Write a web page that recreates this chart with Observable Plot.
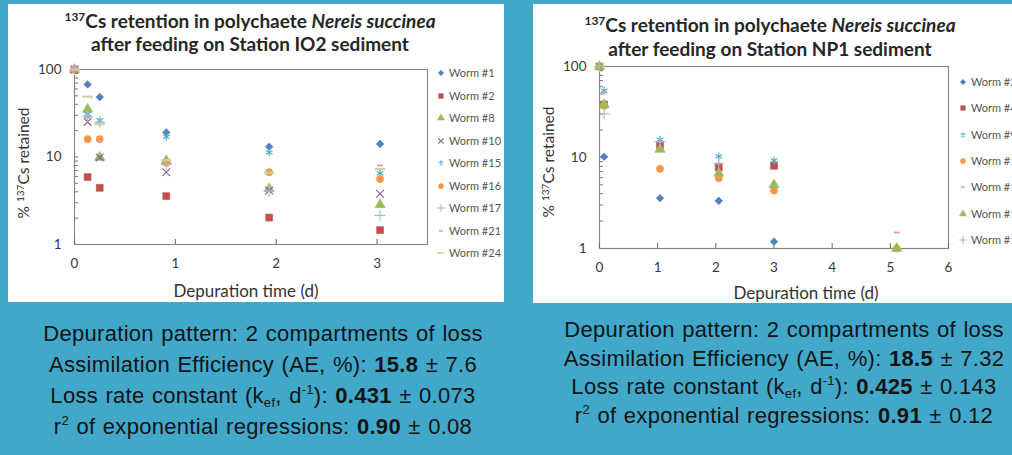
<!DOCTYPE html>
<html><head><meta charset="utf-8">
<script src="https://cdn.jsdelivr.net/npm/d3@7"></script>
<script src="https://cdn.jsdelivr.net/npm/@observablehq/plot@0.6"></script>
<style>
html,body{margin:0;padding:0;overflow:hidden;background:#41a8ca;}
#slide{position:relative;width:1012px;height:455px;background:#41a8ca;overflow:hidden;}
.panel{position:absolute;background:#fff;overflow:hidden;}
.panel svg{position:absolute;left:0;top:0;}
.title{position:absolute;left:0;font-family:Lato,sans-serif;font-weight:bold;font-size:19px;color:#262626;text-align:center;white-space:nowrap;}
.title sup{font-size:12px;line-height:0;vertical-align:0;position:relative;top:-7px;}
.ylab{position:absolute;font-family:Lato,sans-serif;font-size:15.5px;color:#333;white-space:nowrap;transform:translate(-50%,-50%) rotate(-90deg);}
.ylab sup{font-size:10px;line-height:0;position:relative;top:-5px;vertical-align:0;}
.xlab{position:absolute;font-family:Lato,sans-serif;font-size:17px;color:#333;white-space:nowrap;transform:translate(-50%,-50%);}
.leg{position:absolute;font-family:Lato,sans-serif;font-size:11px;color:#555;white-space:nowrap;line-height:12px;}
.leg svg{position:absolute;}
.notes{position:absolute;font-family:"Liberation Sans",Arial,sans-serif;font-size:22px;color:#141414;text-align:center;white-space:nowrap;word-spacing:1px;letter-spacing:0.3px;}
.notes div{height:var(--lh);line-height:var(--lh);}
.notes sup,.notes sub{font-size:13px;line-height:0;vertical-align:0;position:relative;}
.notes sup{top:-9px;}
.notes sub{top:4px;}
</style>
</head><body>
<div id="slide">
  <div class="panel" id="p1" style="left:8px;top:4px;width:496px;height:298px;"></div>
  <div class="panel" id="p2" style="left:533px;top:4px;width:490px;height:299px;"></div>
  <div class="notes" style="left:263px;top:318px;transform:translateX(-50%);--lh:31px;">
    <div>Depuration pattern: 2 compartments of loss</div>
    <div>Assimilation Efficiency (AE, %): <b>15.8</b> ± 7.6</div>
    <div>Loss rate constant (k<sub>ef</sub>, d<sup>-1</sup>): <b>0.431</b> ± 0.073</div>
    <div>r<sup>2</sup> of exponential regressions: <b>0.90</b> ± 0.08</div>
  </div>
  <div class="notes" style="left:784px;top:316px;transform:translateX(-50%);--lh:28.7px;">
    <div>Depuration pattern: 2 compartments of loss</div>
    <div>Assimilation Efficiency (AE, %): <b>18.5</b> ± 7.32</div>
    <div>Loss rate constant (k<sub>ef</sub>, d<sup>-1</sup>): <b>0.425</b> ± 0.143</div>
    <div>r<sup>2</sup> of exponential regressions: <b>0.91</b> ± 0.12</div>
  </div>
</div>
<script>
// ---------- data: Station IO2 ----------
const io2Times = [0, 0.13, 0.25, 0.91, 1.93, 3.03];
const io2Worms = ["Worm #1","Worm #2","Worm #8","Worm #10","Worm #15","Worm #16","Worm #17","Worm #21","Worm #24"];
const io2Worm1  = [100, 67.5, 48.4, 19.1, 13.1, 14.1];
const io2Worm2  = [100, 5.9, 4.44, 3.57, 2.03, 1.46];
const io2Worm8  = [100, 35.1, 9.9, 9.1, 4.33, 2.85];
const io2Worm10 = [100, 25.2, 9.9, 6.7, 4.14, 3.8];
const io2Worm15 = [100, 31, 26.3, 17, 11.3, 6.5];
const io2Worm16 = [100, 16, 16, 8.7, 6.7, 5.6];
const io2Worm17 = [100, 29, 25, 8.2, 4.07, 2.15];
const io2Worm21 = [100, 28.2, 15.3, 8, 6.8, 8];
const io2Worm24 = [100, 48.9, 23.7, 9.2, 6.6, 7.3];
const io2Values = [io2Worm1, io2Worm2, io2Worm8, io2Worm10, io2Worm15, io2Worm16, io2Worm17, io2Worm21, io2Worm24];
const io2XTicks = [0, 1, 2, 3];

// ---------- data: Station NP1 ----------
const np1Times = [0, 0.08, 1.04, 2.05, 3.0, 5.11];
const np1Worms = ["Worm #2","Worm #4","Worm #9","Worm #11","Worm #12","Worm #13","Worm #14"];
const np1Worm2  = [100, 10.2, 3.57, 3.34, 1.19, null];
const np1Worm4  = [100, 38.2, 13.6, 7.8, 8.1, null];
const np1Worm9  = [100, 54.3, 15.7, 10.3, 9.3, null];
const np1Worm11 = [100, 37, 7.5, 5.9, 4.33, 1.0];
const np1Worm12 = [100, 52, 14.9, 8.6, 4.8, 1.5];
const np1Worm13 = [100, 38, 12.3, 6.7, 5.0, 1.0];
const np1Worm14 = [100, 30.2, 15, 8.6, null, null];
const np1Values = [np1Worm2, np1Worm4, np1Worm9, np1Worm11, np1Worm12, np1Worm13, np1Worm14];
const np1XTicks = [0, 1, 2, 3, 4, 5, 6];

const yTicks = [1, 10, 100];
const yMinorTicks = [2,3,4,5,6,7,8,9,10,20,30,40,50,60,70,80,90];

// ---------- styles ----------
const io2Colors = ["#4f81bd","#c0504d","#9bbb59","#8064a2","#4bacc6","#f79646","#9fb8de","#e59a9a","#c3d69b"];
const io2Shapes = ["diamond","square","triangle","times","asterisk","circle","plus","dashS","dashL"];
const np1Colors = ["#4f81bd","#c0504d","#4bacc6","#f79646","#e59a9a","#9bbb59","#9fb8de"];
const np1Shapes = ["diamond","square","asterisk","circle","dashS","triangle","plus"];

const diamondSq = {draw(ctx, size){ const s = Math.sqrt(size) * 0.6; ctx.moveTo(0, -s); ctx.lineTo(s, 0); ctx.lineTo(0, s); ctx.lineTo(-s, 0); ctx.closePath(); }};
const dashS = {draw(ctx, size){ const w = Math.sqrt(size) * 0.45; ctx.moveTo(-w, 0); ctx.lineTo(w, 0); }};
const dashL = {draw(ctx, size){ const w = Math.sqrt(size) * 0.8; ctx.moveTo(-w, 0); ctx.lineTo(w, 0); }};
function shapeStyle(name){
  switch(name){
    case "diamond":  return {symbol: diamondSq, filled: true, r: 3.6, sw: 0.6};
    case "square":   return {symbol: d3.symbolSquare, filled: true, r: 3.9, sw: 0.6};
    case "triangle": return {symbol: d3.symbolTriangle, filled: true, r: 3.8, sw: 0.6};
    case "circle":   return {symbol: d3.symbolCircle, filled: true, r: 3.6, sw: 0.6};
    case "times":    return {symbol: d3.symbolTimes, filled: false, r: 3.6, sw: 1.1};
    case "asterisk": return {symbol: d3.symbolAsterisk, filled: false, r: 3.6, sw: 1.1};
    case "plus":     return {symbol: d3.symbolPlus, filled: false, r: 3.6, sw: 1.1};
    case "dashS":    return {symbol: dashS, filled: false, r: 3.6, sw: 1.8};
    case "dashL":    return {symbol: dashL, filled: false, r: 3.6, sw: 2.2};
  }
}

function buildChart(cfg){
  const marks = [
    Plot.frame({stroke: "#8a8a8a", strokeWidth: 1.2}),
    Plot.axisY({ticks: yTicks, tickSize: 0, tickPadding: 13, tickFormat: d => String(d), label: null, fontSize: 13.5}),
    Plot.axisY({ticks: yMinorTicks, tickSize: -4, tickFormat: () => "", label: null, stroke: "#777"}),
    Plot.axisX({ticks: cfg.xTicks, tickSize: 0, tickPadding: 14, tickFormat: d => String(d), label: null, fontSize: 13.5}),
    Plot.axisX({ticks: cfg.xTicks, tickSize: -5, tickFormat: () => "", label: null, stroke: "#666"})
  ];
  cfg.worms.forEach((w, i) => {
    const rows = [];
    cfg.values[i].forEach((v, j) => { if (v != null) rows.push({t: cfg.times[j], v}); });
    const st = shapeStyle(cfg.shapes[i]);
    marks.push(Plot.dot(rows, {x: "t", y: "v", symbol: st.symbol, r: st.r,
      fill: st.filled ? cfg.colors[i] : "none", stroke: cfg.colors[i], strokeWidth: st.sw}));
  });
  return Plot.plot({
    width: cfg.width, height: cfg.height,
    marginLeft: cfg.ml, marginRight: cfg.mr, marginTop: cfg.mt, marginBottom: cfg.mb,
    x: {domain: cfg.xDomain},
    y: {type: "log", domain: [1, 100]},
    style: {fontFamily: "Lato, sans-serif", color: "#3a3a3a", background: "none", overflow: "visible"},
    marks
  });
}

function addLegend(panel, cfg){
  cfg.worms.forEach((w, i) => {
    const st = shapeStyle(cfg.shapes[i]);
    const y = cfg.legTop + i * cfg.legStep;
    const item = document.createElement("div");
    item.className = "leg";
    item.style.left = cfg.legTextX + "px";
    item.style.top = (y - 6) + "px";
    item.textContent = w;
    panel.appendChild(item);
    const svg = d3.create("svg").attr("width", 12).attr("height", 12)
      .style("left", (cfg.legMarkX - cfg.legTextX - 6) + "px").style("top", "0px");
    svg.append("path").attr("transform", "translate(6,6)")
      .attr("d", d3.symbol(st.symbol, Math.PI * 2.6 * 2.6)())
      .attr("fill", st.filled ? cfg.colors[i] : "none")
      .attr("stroke", cfg.colors[i]).attr("stroke-width", st.filled ? 0.5 : Math.min(st.sw, 1.4));
    item.appendChild(svg.node());
  });
}

function addText(panel, cls, html, style){
  const d = document.createElement("div");
  d.className = cls; d.innerHTML = html;
  Object.assign(d.style, style);
  panel.appendChild(d);
}

const cfg1 = {times: io2Times, worms: io2Worms, values: io2Values, colors: io2Colors, shapes: io2Shapes,
  xTicks: io2XTicks, xDomain: [0, 3.5], width: 496, height: 298, ml: 66, mr: 77, mt: 65, mb: 58,
  legTop: 69, legStep: 22.5, legMarkX: 433, legTextX: 441};
const cfg2 = {times: np1Times, worms: np1Worms, values: np1Values, colors: np1Colors, shapes: np1Shapes,
  xTicks: np1XTicks, xDomain: [0, 6], width: 479, height: 298, ml: 66, mr: 64, mt: 62, mb: 54,
  legTop: 78, legStep: 26.33, legMarkX: 430, legTextX: 438};

const p1 = document.getElementById("p1");
const p2 = document.getElementById("p2");
p1.appendChild(buildChart(cfg1));
p2.appendChild(buildChart(cfg2));
addLegend(p1, cfg1);
addLegend(p2, cfg2);

addText(p1, "title", "<sup>137</sup>Cs retention in polychaete <i>Nereis succinea</i><br>after feeding on Station IO2 sediment",
  {top: "5px", width: "484px", lineHeight: "23px"});
addText(p2, "title", "<sup>137</sup>Cs retention in polychaete <i>Nereis succinea</i><br>after feeding on Station NP1 sediment",
  {top: "9px", width: "474px", lineHeight: "24px"});
addText(p1, "ylab", "% <sup>137</sup>Cs retained", {left: "15px", top: "159px"});
addText(p2, "ylab", "% <sup>137</sup>Cs retained", {left: "15px", top: "158px"});
addText(p1, "xlab", "Depuration time (d)", {left: "238px", top: "286px"});
addText(p2, "xlab", "Depuration time (d)", {left: "273px", top: "288px"});
</script>
</body></html>
